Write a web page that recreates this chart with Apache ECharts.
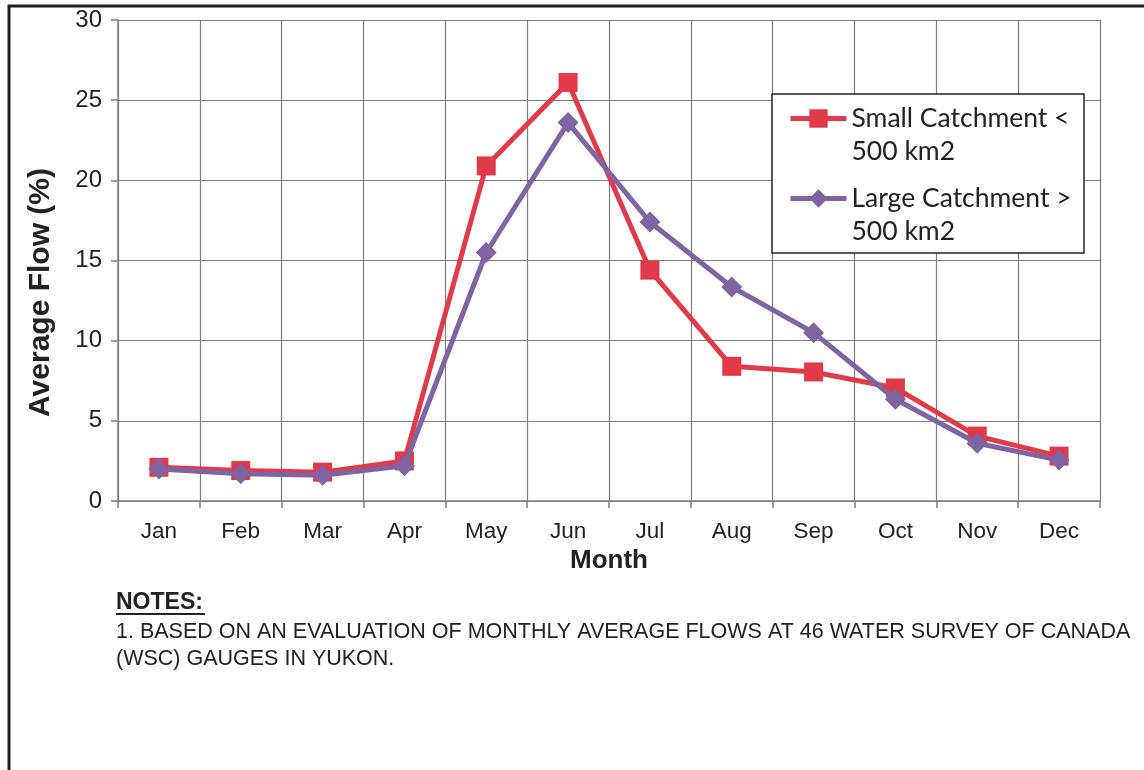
<!DOCTYPE html>
<html>
<head>
<meta charset="utf-8">
<script src="https://cdn.jsdelivr.net/npm/echarts@6/dist/echarts.min.js"></script>
<style>
  html, body { margin: 0; padding: 0; background: #fff; }
  #chart { width: 1144px; height: 770px; }
</style>
</head>
<body>
<div id="chart"></div>
<script>
const months = ['Jan', 'Feb', 'Mar', 'Apr', 'May', 'Jun', 'Jul', 'Aug', 'Sep', 'Oct', 'Nov', 'Dec']
const smallCatchment = [2.1, 1.9, 1.8, 2.5, 20.9, 26.1, 14.4, 8.4, 8.05, 7.05, 4.05, 2.8]
const largeCatchment = [2.0, 1.7, 1.6, 2.2, 15.5, 23.6, 17.4, 13.35, 10.5, 6.35, 3.6, 2.55]
const yTicks = { min: 0, max: 30, interval: 5 }

const gridColor = '#7f7f7f'
const axisFont = '"Liberation Sans", Arial, sans-serif'
const red = '#e13a48'
const purple = '#8064a2'

const chart = echarts.init(document.getElementById('chart'))

chart.setOption({
  backgroundColor: '#fff',
  animation: false,
  grid: { left: 118, right: 44, top: 20, bottom: 269 },
  legend: {
    orient: 'vertical',
    left: 788,
    top: 69,
    padding: 0,
    itemGap: -19,
    itemWidth: 56,
    itemHeight: 23,
    z: 20,
    lineStyle: { width: 5 },
    textStyle: {
      fontFamily: 'Lato, "Open Sans", sans-serif', fontSize: 26.5, color: '#222', lineHeight: 33
    },
    // empty first line keeps the icon level with the first text line
    formatter: (name) => '\n' + name.replace(' 500', '\n500')
  },
  xAxis: {
    type: 'category',
    data: months,
    boundaryGap: true,
    name: 'Month',
    nameLocation: 'middle',
    nameGap: 46,
    nameTextStyle: { fontFamily: axisFont, fontSize: 26, fontWeight: 'bold', color: '#222' },
    axisLine: { lineStyle: { color: gridColor, width: 1.5 } },
    axisTick: { show: true, interval: 0, length: 7, lineStyle: { color: gridColor, width: 1.5 } },
    axisLabel: { interval: 0, margin: 19, fontFamily: axisFont, fontSize: 22.5, color: '#222' },
    splitLine: { show: true, interval: 0, lineStyle: { color: gridColor, width: 1.2 } }
  },
  yAxis: {
    type: 'value',
    min: yTicks.min,
    max: yTicks.max,
    interval: yTicks.interval,
    name: 'Average Flow (%)',
    nameLocation: 'middle',
    nameGap: 62,
    nameRotate: 90,
    nameTextStyle: { fontFamily: axisFont, fontSize: 30, fontWeight: 'bold', color: '#222', padding: [0, 64, 0, 0] },
    axisLine: { show: true, lineStyle: { color: gridColor, width: 1.5 } },
    axisTick: { show: true, length: 7, lineStyle: { color: gridColor, width: 1.5 } },
    axisLabel: { margin: 16, fontFamily: axisFont, fontSize: 24, color: '#222' },
    splitLine: { show: true, lineStyle: { color: gridColor, width: 1.2 } }
  },
  series: [
    {
      name: 'Small Catchment < 500 km2',
      type: 'line',
      data: smallCatchment,
      symbol: 'rect',
      symbolSize: 19,
      lineStyle: { color: red, width: 5 },
      itemStyle: { color: red },
      z: 2
    },
    {
      name: 'Large Catchment > 500 km2',
      type: 'line',
      data: largeCatchment,
      symbol: 'diamond',
      symbolSize: 21,
      lineStyle: { color: purple, width: 5 },
      itemStyle: { color: purple },
      z: 3
    }
  ],
  graphic: [
    // page frame
    { type: 'line', shape: { x1: 9, y1: 5, x2: 9, y2: 770 }, style: { stroke: '#231f20', lineWidth: 3 } },
    { type: 'line', shape: { x1: 8, y1: 6, x2: 1144, y2: 6 }, style: { stroke: '#231f20', lineWidth: 3 } },
    // legend box
    { type: 'rect', z: 10, shape: { x: 772, y: 94, width: 312, height: 159 }, style: { fill: '#fff', stroke: '#222', lineWidth: 1.5 } },
    // notes
    { type: 'text', z: 10, x: 116, y: 603, style: { text: 'NOTES:', font: 'bold 23px "Liberation Sans", Arial, sans-serif', fill: '#222', verticalAlign: 'middle' } },
    { type: 'line', z: 10, shape: { x1: 116, y1: 614, x2: 205, y2: 614 }, style: { stroke: '#222', lineWidth: 1.8 } },
    { type: 'text', z: 10, x: 116, y: 632, style: { text: '1. BASED ON AN EVALUATION OF MONTHLY AVERAGE FLOWS AT 46 WATER SURVEY OF CANADA', font: '21.5px "Liberation Sans", Arial, sans-serif', fill: '#222', verticalAlign: 'middle' } },
    { type: 'text', z: 10, x: 116, y: 659, style: { text: '(WSC) GAUGES IN YUKON.', font: '21.5px "Liberation Sans", Arial, sans-serif', fill: '#222', verticalAlign: 'middle' } }
  ]
})
</script>
</body>
</html>
